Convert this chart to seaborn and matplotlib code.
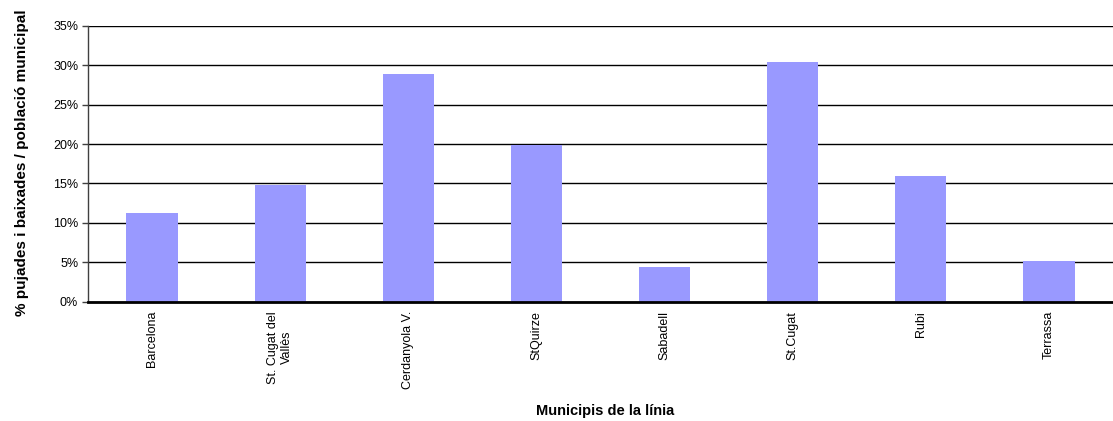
import matplotlib
matplotlib.use("Agg")
import matplotlib.pyplot as plt
import matplotlib.ticker as mtick
import seaborn as sns
import pandas as pd

# Data
municipis = ["Barcelona", "St. Cugat del\nVallès", "Cerdanyola V.", "StQuirze",
             "Sabadell", "St.Cugat", "Rubi", "Terrassa"]
percentatge = [11.3, 14.8, 28.9, 19.9, 4.4, 30.4, 15.9, 5.2]

df = pd.DataFrame({"municipi": municipis, "pct": percentatge})

sns.set_style("white")
plt.rcParams['font.family'] = ['Liberation Sans', 'DejaVu Sans']
plt.rcParams['text.color'] = 'black'
plt.rcParams['xtick.color'] = 'black'
plt.rcParams['ytick.color'] = 'black'
plt.rcParams['axes.labelcolor'] = 'black'

fig = plt.figure(figsize=(11.13, 4.21), dpi=100)
ax = fig.add_axes([0.079, 0.283, 0.921, 0.656])

sns.barplot(data=df, x="municipi", y="pct", color="#9999FF", saturation=1,
            width=0.4, linewidth=0, ax=ax)

ax.set_ylim(0, 35)
ax.set_xlim(-0.5, len(municipis) - 0.5)
ax.set_yticks(range(0, 36, 5))
ax.yaxis.set_major_formatter(mtick.PercentFormatter(decimals=0))
ax.yaxis.grid(True, color="black", linewidth=1)
ax.set_axisbelow(True)

for s in ["top", "right"]:
    ax.spines[s].set_visible(False)
ax.spines["left"].set_color("#404040")
ax.spines["left"].set_linewidth(1)
ax.spines["bottom"].set_color("black")
ax.spines["bottom"].set_linewidth(2)

ax.tick_params(axis="y", left=True, length=4, width=1, color="#404040",
               labelsize=9, pad=3)
ax.tick_params(axis="x", bottom=False, labelsize=9, pad=3)
plt.setp(ax.get_xticklabels(), rotation=90, ha="center", va="top",
         multialignment="center")

ax.set_xlabel("Municipis de la línia", fontsize=10.5, fontweight="bold")
ax.set_ylabel("% pujades i baixades / població municipal", fontsize=11,
              fontweight="bold")
ax.xaxis.set_label_coords(0.505, -0.37)
ax.yaxis.set_label_coords(-0.057, 0.505)

fig.savefig("out.png", dpi=100)
